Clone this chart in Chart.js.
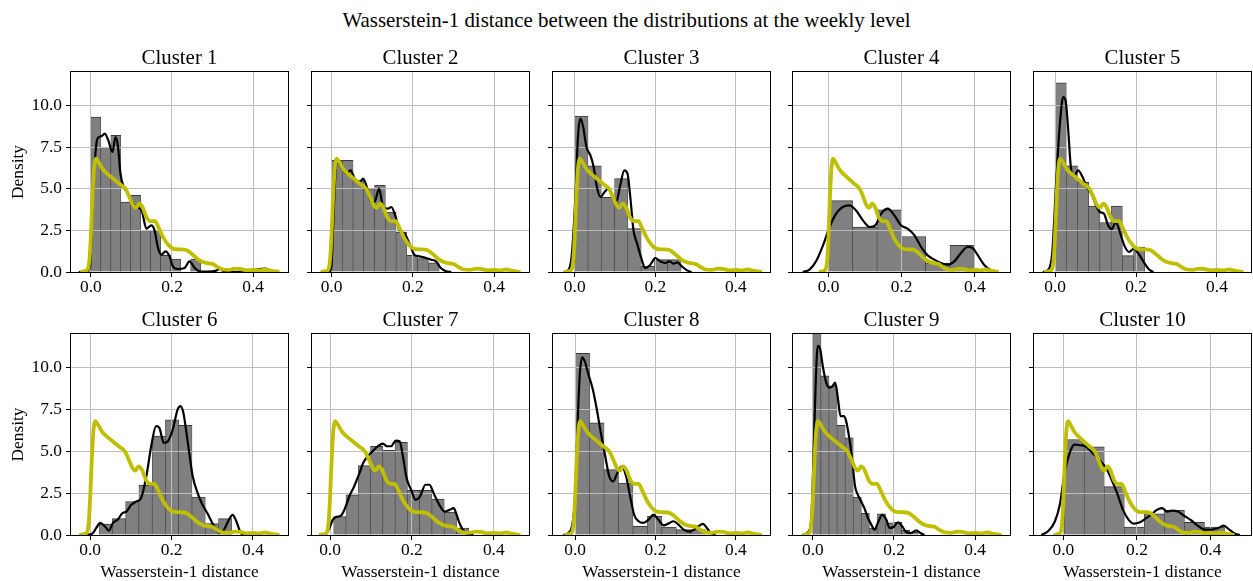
<!DOCTYPE html>
<html>
<head>
<meta charset="utf-8">
<script src="https://cdn.jsdelivr.net/npm/chart.js@4.4.0/dist/chart.umd.min.js"></script>
<style>
  html, body { margin: 0; padding: 0; overflow: hidden; background: #fff; }
  body { width: 1253px; height: 581px; position: relative; font-family: "Liberation Serif", "Times New Roman", serif; }
  #suptitle { position: absolute; left: 0; top: 8px; width: 1253px; text-align: center; font-size: 20.9px; line-height: 24px; color: #000; }
  canvas { position: absolute; }
</style>
</head>
<body>
<div id="suptitle">Wasserstein-1 distance between the distributions at the weekly level</div>
<script>
// ---- data ----
const clusterNames = ['Cluster 1', 'Cluster 2', 'Cluster 3', 'Cluster 4', 'Cluster 5',
                      'Cluster 6', 'Cluster 7', 'Cluster 8', 'Cluster 9', 'Cluster 10'];
const xTicks = [0, 0.2, 0.4];
const yTicks = [0, 2.5, 5, 7.5, 10];
const xMins = [-0.049, -0.048, -0.054, -0.097, -0.052, -0.047, -0.044, -0.055, -0.049, -0.080];
const xMaxs = [0.486, 0.486, 0.485, 0.496, 0.484, 0.486, 0.486, 0.485, 0.486, 0.510];
const yMax = 12;

// histogram bins: first edge, bin width, densities
const binStarts = [0.0, 0.0, 0.0, 0.0, 0.0, 0.022, 0.009, 0.0, 0.0, 0.002];
const binWidths = [0.0246, 0.0265, 0.033, 0.0664, 0.0277, 0.0326, 0.030, 0.036, 0.0199, 0.0545];
const hist1 = [9.3, 7.5, 8.2, 4.2, 4.6, 2.5, 2.5, 1.0, 0.78, 0, 0.78, 0, 0, 0, 0, 0, 0, 0.1];
const hist2 = [6.7, 6.7, 5.5, 5.0, 5.2, 3.6, 2.4, 1.0, 0.8, 0.55];
const hist3 = [9.36, 6.37, 4.48, 5.6, 2.6, 0.34, 0.74, 0.74];
const hist4 = [4.28, 2.69, 3.73, 2.13, 0.54, 1.6];
const hist5 = [11.35, 6.37, 5.4, 3.96, 2.97, 3.96, 0.98, 1.5];
const hist6 = [0.65, 0.98, 2.0, 2.97, 5.9, 6.87, 6.55, 2.27, 0.68, 0.98];
const hist7 = [1.1, 2.4, 4.14, 5.3, 5.06, 5.54, 2.67, 2.67, 2.15, 1.37, 0.42];
const hist8 = [10.84, 6.7, 3.9, 3.1, 0.52, 1.12, 0.48, 0.32, 0.32];
const hist9 = [12.3, 9.5, 8.9, 6.55, 5.8, 2.27, 1.3, 0.42, 1.27, 0.72, 0.76, 0.28, 0.18];
const hist10 = [5.7, 5.26, 2.89, 0.48, 1.27, 1.47, 0.76, 0.48];

// cluster KDE curves [x, density]
const kde1 = [[-0.03,0],[-0.01,0.02],[-0.002,0.3],[0.004,3.9],[0.01,6.7],[0.016,8.0],[0.026,8.15],[0.034,8.3],[0.043,7.9],[0.053,7.2],[0.061,8.1],[0.067,7.5],[0.073,5.9],[0.081,5.1],[0.092,4.7],[0.104,4.1],[0.112,3.9],[0.125,3.7],[0.137,2.6],[0.149,2.8],[0.157,2.5],[0.166,1.4],[0.174,1.04],[0.184,1.24],[0.194,0.94],[0.202,0.34],[0.215,0.18],[0.231,0.24],[0.243,0.64],[0.256,0.24],[0.268,0.04],[0.29,0.02],[0.309,0.08],[0.317,0.18],[0.33,0.02],[0.36,0],[0.39,0.05],[0.407,0.14],[0.432,0.2],[0.444,0.05],[0.46,0]];
const kde2 = [[-0.005,0],[0.0,0.4],[0.004,2.7],[0.011,6.3],[0.016,6.6],[0.024,6.3],[0.037,5.9],[0.047,6.1],[0.057,5.6],[0.069,5.4],[0.078,5.6],[0.087,5.1],[0.098,4.2],[0.106,4.2],[0.117,5.0],[0.127,3.9],[0.139,3.8],[0.147,3.9],[0.158,3.3],[0.167,2.5],[0.18,2.3],[0.192,1.7],[0.204,1.04],[0.216,0.94],[0.233,0.84],[0.245,0.74],[0.257,0.64],[0.269,0.24],[0.282,0.04],[0.295,0]];
const kde3 = [[-0.027,0],[-0.015,0.14],[-0.007,1.1],[0.002,4.7],[0.008,8.1],[0.014,9.2],[0.021,8.7],[0.029,7.5],[0.039,7.0],[0.047,6.3],[0.055,5.1],[0.064,4.5],[0.074,4.8],[0.084,5.0],[0.095,4.5],[0.103,4.2],[0.113,5.2],[0.123,6.1],[0.131,5.9],[0.138,4.5],[0.146,2.5],[0.155,1.7],[0.164,0.94],[0.175,0.24],[0.188,0.44],[0.2,0.84],[0.212,0.64],[0.225,0.54],[0.236,0.64],[0.245,0.5],[0.255,0.58],[0.266,0.34],[0.279,0.1],[0.29,0]];
const kde4 = [[-0.07,0],[-0.052,0.14],[-0.034,0.64],[-0.015,1.6],[0.003,2.7],[0.021,3.5],[0.039,3.9],[0.057,4.0],[0.075,3.7],[0.094,3.1],[0.112,2.7],[0.128,2.8],[0.144,3.5],[0.162,3.8],[0.18,3.4],[0.198,2.8],[0.216,2.6],[0.235,2.2],[0.253,1.5],[0.271,1.0],[0.289,0.74],[0.307,0.54],[0.325,0.44],[0.344,0.64],[0.362,1.14],[0.38,1.5],[0.394,1.43],[0.407,1.04],[0.425,0.44],[0.444,0.1],[0.462,0]];
const kde5 = [[-0.03,0],[-0.017,0.14],[-0.007,1.14],[0.003,5.5],[0.012,8.9],[0.02,10.5],[0.026,10.3],[0.032,8.7],[0.039,6.3],[0.046,5.7],[0.057,6.1],[0.068,5.7],[0.078,5.1],[0.09,4.7],[0.101,4.0],[0.111,3.6],[0.121,3.5],[0.131,2.8],[0.14,2.57],[0.15,3.0],[0.16,2.4],[0.171,1.6],[0.183,1.2],[0.195,1.4],[0.206,1.1],[0.218,0.64],[0.231,0.18],[0.243,0]];
const kde6 = [[-0.007,0],[0.007,0.12],[0.015,0.42],[0.025,0.72],[0.036,0.52],[0.046,0.26],[0.056,0.72],[0.068,0.92],[0.079,1.3],[0.089,1.4],[0.101,1.8],[0.113,2.0],[0.125,2.2],[0.138,3.5],[0.15,5.3],[0.162,6.5],[0.17,6.4],[0.181,5.5],[0.191,5.6],[0.203,6.3],[0.215,7.5],[0.222,7.7],[0.229,7.3],[0.24,5.5],[0.252,3.5],[0.264,2.5],[0.276,1.8],[0.288,1.3],[0.3,0.72],[0.313,0.22],[0.321,0.12],[0.329,0.32],[0.341,0.92],[0.35,1.2],[0.359,0.82],[0.37,0.12],[0.378,0]];
const kde7 = [[-0.011,0],[-0.003,0.32],[0.007,0.92],[0.015,1.08],[0.027,1.16],[0.035,1.5],[0.047,2.3],[0.059,2.9],[0.072,3.7],[0.081,4.3],[0.092,4.7],[0.104,5.0],[0.117,5.3],[0.129,5.46],[0.139,5.3],[0.149,5.3],[0.161,5.64],[0.17,5.6],[0.178,4.7],[0.187,3.4],[0.198,2.7],[0.209,2.1],[0.22,2.3],[0.233,3.0],[0.243,3.0],[0.253,2.5],[0.267,1.8],[0.28,1.4],[0.292,1.5],[0.302,1.6],[0.308,1.3],[0.316,0.72],[0.324,0.32],[0.337,0.06],[0.35,0]];
const kde8 = [[-0.029,0],[-0.017,0.12],[-0.008,0.52],[0.0,2.3],[0.007,7.1],[0.012,9.7],[0.018,10.6],[0.025,10.3],[0.033,9.6],[0.044,8.7],[0.054,7.5],[0.064,6.1],[0.075,4.7],[0.085,3.5],[0.095,3.2],[0.105,3.7],[0.116,4.1],[0.127,3.5],[0.137,2.3],[0.147,1.2],[0.158,0.82],[0.17,0.72],[0.183,0.92],[0.195,1.22],[0.207,0.92],[0.22,0.58],[0.232,0.68],[0.245,0.82],[0.257,0.62],[0.27,0.32],[0.285,0.2],[0.296,0.32],[0.307,0.52],[0.318,0.66],[0.328,0.42],[0.336,0.16],[0.349,0]];
const kde9 = [[-0.025,0],[-0.012,0.16],[-0.004,0.92],[0.002,5.1],[0.007,9.1],[0.012,11.3],[0.018,11.1],[0.025,10.0],[0.033,9.1],[0.041,8.8],[0.049,8.9],[0.055,9.1],[0.062,8.1],[0.068,7.1],[0.076,7.1],[0.082,6.8],[0.089,5.9],[0.096,4.7],[0.104,2.9],[0.111,2.4],[0.119,2.0],[0.127,1.6],[0.136,1.0],[0.144,0.62],[0.152,0.32],[0.16,0.72],[0.171,1.2],[0.181,0.92],[0.189,0.42],[0.199,0.48],[0.21,0.76],[0.22,0.52],[0.23,0.18],[0.242,0.12],[0.255,0.28],[0.265,0.12],[0.275,0]];
const kde10 = [[-0.06,0],[-0.042,0.22],[-0.023,0.82],[-0.009,1.9],[0.003,3.7],[0.017,4.9],[0.03,5.4],[0.044,5.36],[0.06,5.3],[0.079,4.9],[0.097,4.5],[0.116,4.0],[0.129,3.4],[0.146,2.5],[0.162,1.5],[0.177,0.92],[0.192,0.68],[0.208,0.76],[0.222,0.96],[0.238,1.2],[0.254,1.5],[0.268,1.6],[0.282,1.4],[0.296,1.45],[0.311,1.4],[0.328,1.15],[0.347,0.88],[0.365,0.56],[0.384,0.32],[0.402,0.32],[0.421,0.42],[0.436,0.56],[0.451,0.32],[0.467,0.08],[0.48,0]];

// reference density (same yellow curve in every panel)
const refDensity = [[-0.027,0],[-0.015,0.05],[-0.007,0.2],[-0.003,0.9],[0.0,2.2],[0.004,4.5],[0.008,6.2],[0.013,6.8],[0.02,6.55],[0.03,6.15],[0.04,5.9],[0.055,5.6],[0.07,5.3],[0.085,5.0],[0.095,4.5],[0.104,4.0],[0.111,3.85],[0.119,4.1],[0.127,3.9],[0.137,3.3],[0.147,3.05],[0.158,3.05],[0.168,2.6],[0.18,2.0],[0.192,1.6],[0.205,1.38],[0.22,1.36],[0.235,1.32],[0.248,1.1],[0.262,0.8],[0.278,0.58],[0.292,0.52],[0.302,0.47],[0.312,0.3],[0.325,0.15],[0.34,0.13],[0.356,0.2],[0.368,0.18],[0.385,0.1],[0.4,0.12],[0.414,0.09],[0.43,0.15],[0.445,0.07],[0.465,0]];

const histograms = [hist1, hist2, hist3, hist4, hist5, hist6, hist7, hist8, hist9, hist10];
const kdes = [kde1, kde2, kde3, kde4, kde5, kde6, kde7, kde8, kde9, kde10];

// ---- layout (plot area positions in the page) ----
const colLeft = [71, 312, 553, 793, 1034];
const rowTop = [72, 334];
const rowHeight = [200, 201];
const plotWidth = 217;
const titleBox = 26;

Chart.defaults.font.family = "'Liberation Serif', 'Times New Roman', serif";
Chart.defaults.color = '#000';

// matplotlib draws the grid above the bars but below the lines
const gridOverBars = {
    id: 'gridOverBars',
    afterDatasetDraw(chart, args) {
        if (args.meta.type !== 'bar') return;
        chart.scales.x.drawGrid(chart.chartArea);
        chart.scales.y.drawGrid(chart.chartArea);
    }
};

// four black spines
const frame = {
    id: 'frame',
    afterDatasetsDraw(chart) {
        const a = chart.chartArea;
        const ctx = chart.ctx;
        ctx.save();
        ctx.strokeStyle = '#000';
        ctx.lineWidth = 1;
        ctx.strokeRect(a.left - 0.5, a.top - 0.5, a.right - a.left + 1, a.bottom - a.top + 1);
        ctx.restore();
    }
};

function toPoints(pairs) {
    return pairs.map(p => ({ x: p[0], y: p[1] }));
}

for (let i = 0; i < clusterNames.length; i++) {
    const row = Math.floor(i / 5);
    const col = i % 5;
    const yw = col === 0 ? 71 : 12;
    const xh = row === 1 ? 48 : 28;
    const w = yw + plotWidth + 3;
    const h = titleBox + rowHeight[row] + xh;

    const cv = document.createElement('canvas');
    cv.width = w;
    cv.height = h;
    cv.style.width = w + 'px';
    cv.style.height = h + 'px';
    cv.style.left = (colLeft[col] - yw) + 'px';
    cv.style.top = (rowTop[row] - titleBox) + 'px';
    document.body.appendChild(cv);

    const bars = histograms[i].map((v, k) => ({ x: binStarts[i] + (k + 0.5) * binWidths[i], y: v }));

    const gridStyle = {
        color: '#bdbdbd',
        lineWidth: 1,
        offset: false,
        drawTicks: true,
        tickLength: 5,
        tickColor: '#000',
        tickWidth: 1
    };

    new Chart(cv, {
        type: 'bar',
        data: {
            datasets: [
                {
                    type: 'bar',
                    data: bars,
                    backgroundColor: '#808080',
                    borderColor: '#3a3a3a',
                    borderWidth: { top: 1, left: 0.6, right: 0.6, bottom: 0 },
                    barPercentage: 1,
                    categoryPercentage: 1,
                    order: 3
                },
                {
                    type: 'line',
                    data: toPoints(kdes[i]),
                    borderColor: '#000',
                    borderWidth: 2.2,
                    pointRadius: 0,
                    fill: false,
                    cubicInterpolationMode: 'monotone',
                    order: 2
                },
                {
                    type: 'line',
                    data: toPoints(refDensity),
                    borderColor: '#bfbf00',
                    borderWidth: 3.8,
                    pointRadius: 0,
                    fill: false,
                    cubicInterpolationMode: 'monotone',
                    order: 1
                }
            ]
        },
        options: {
            responsive: false,
            animation: false,
            devicePixelRatio: 1,
            layout: { padding: { left: 0, right: 3, top: 0, bottom: 0 } },
            plugins: {
                legend: { display: false },
                tooltip: { enabled: false },
                title: {
                    display: true,
                    fullSize: false,
                    text: clusterNames[i],
                    color: '#000',
                    font: { size: 20.9, weight: 'normal', lineHeight: '24px' },
                    padding: { top: 1, bottom: 1 }
                }
            },
            scales: {
                x: {
                    type: 'linear',
                    min: xMins[i],
                    max: xMaxs[i],
                    offset: false,
                    afterBuildTicks: s => { s.ticks = xTicks.map(v => ({ value: v })); },
                    afterFit: s => { s.height = xh; },
                    grid: gridStyle,
                    border: { display: false },
                    ticks: {
                        font: { size: 17.4 },
                        padding: 0,
                        maxRotation: 0,
                        autoSkip: false,
                        callback: v => v.toFixed(1)
                    },
                    title: {
                        display: row === 1,
                        text: 'Wasserstein-1 distance',
                        font: { size: 17.4 },
                        padding: { top: 0, bottom: 0 }
                    }
                },
                y: {
                    type: 'linear',
                    min: 0,
                    max: yMax,
                    afterBuildTicks: s => { s.ticks = yTicks.map(v => ({ value: v })); },
                    afterFit: s => { s.width = yw; },
                    grid: gridStyle,
                    border: { display: false },
                    ticks: {
                        display: col === 0,
                        font: { size: 17.4 },
                        padding: 4,
                        autoSkip: false,
                        callback: v => v.toFixed(1)
                    },
                    title: {
                        display: col === 0,
                        text: 'Density',
                        font: { size: 17.4 },
                        padding: { top: 8, bottom: 0 }
                    }
                }
            }
        },
        plugins: [gridOverBars, frame]
    });
}
</script>
</body>
</html>
